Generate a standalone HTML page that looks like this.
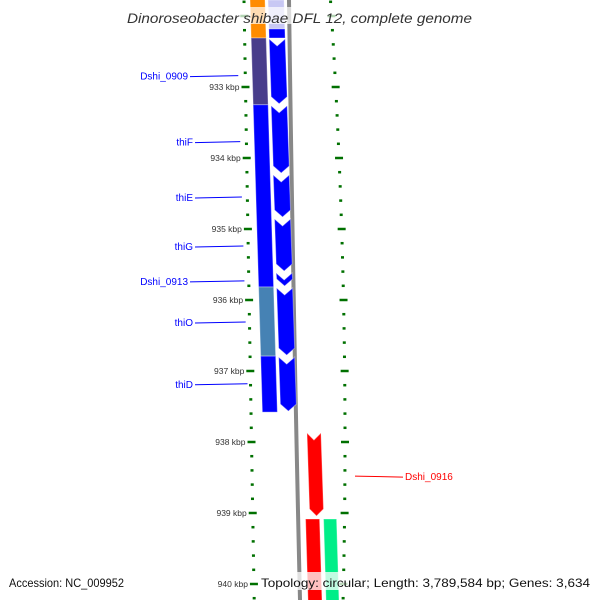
<!DOCTYPE html>
<html><head><meta charset="utf-8"><style>
html,body{margin:0;padding:0;background:#fff;}
svg{display:block;font-family:"Liberation Sans",sans-serif;}
</style></head><body>
<svg id="map" width="600" height="600" viewBox="0 0 600 600"></svg>
<script>
// data (kbp)
const tickMajors = [933,934,935,936,937,938,939,940];
const tickLabels = ["933 kbp","934 kbp","935 kbp","936 kbp","937 kbp","938 kbp","939 kbp","940 kbp"];
const innerStarts = [931.70,932.31,933.25,935.817,936.79];
const innerEnds   = [932.31,933.25,935.817,936.79,937.58];
const innerColors = ["#ff8c00","#483d8b","#0000ff","#4682b4","#0000ff"];
const cdsStarts = [932.31,933.25,934.225,934.845,935.605,935.817,936.79];
const cdsEnds   = [933.25,934.225,934.845,935.605,935.817,936.79,937.58];
const redStarts = [937.86,939.085];
const redEnds   = [939.056,940.3];
const greenStarts = [939.085];
const greenEnds = [940.3];
const geneNames = ["Dshi_0909","thiF","thiE","thiG","Dshi_0913","thiO","thiD"];
const genePos = [932.84,933.77,934.55,935.24,935.73,936.31,937.18];
const rightName = ["Dshi_0916"];
const rightPos = [938.48];

const svg = document.getElementById('map');
const NS = 'http://www.w3.org/2000/svg';
const Y = k => 87 + (k - 933) * 71;
function mk(t, a, p){const e=document.createElementNS(NS,t);for(const k in a)e.setAttribute(k,a[k]);(p||svg).appendChild(e);return e;}
function band(y1,y2,x0,w,fill,arrow,nm){
  const xa=x0+0.03*y1, xb=x0+0.03*y2;
  let pts;
  if(arrow){const h=Math.min(7,(y2-y1)/2);
    pts=[[xa,y1+1],[xa+w/2,y1+1+h],[xa+w,y1+1],[xb+w,y2-h-1],[xb+w/2,y2-1],[xb,y2-h-1]];
  } else pts=[[xa,y1],[xa+w,y1],[xb+w,y2],[xb,y2]];
  const p=mk('polygon',{points:pts.map(q=>q.join(',')).join(' '),fill:fill,stroke:'rgba(255,255,255,0.35)','stroke-width':1});
  
  
}
// backbone
const bb=mk('path',{d:'M289,0 Q293,300 300,600',stroke:'#888',fill:'none','stroke-width':4});


// inner
innerStarts.forEach((s,i)=>band(Y(s),Y(innerEnds[i]),250,15,innerColors[i],false,'inner-feature-'+i));
// cds
band(0,30,268,16,'#c8c8f4',false,'cds-partial');
band(29,38,268,16,'#0000ff',false,'cds-partial-end');
cdsStarts.forEach((s,i)=>band(Y(s),Y(cdsEnds[i]),268,16,'#0000ff',true,'cds-'+i));
redStarts.forEach((s,i)=>band(Y(s),Y(redEnds[i]),i?290:294,14,'#ff0000',i===0,'red-cds-'+i));
greenStarts.forEach((s,i)=>band(Y(s),Y(greenEnds[i]),308,13,'#00ee88',false,'green-cds-'+i));
// ticks
for(let k=931.8;k<=940.25;k+=0.2){
  const y=Y(k), maj=Math.abs(k-Math.round(k))<0.01;
  const xl=244+0.017*y, xr=345-12*Math.pow((y-440)/400,2);
  const a=mk('line',{x1:maj?xl-4:xl-1.5,x2:maj?xl+4:xl+1.5,y1:y,y2:y,stroke:'#007000','stroke-width':2.5});
  
  
  const b=mk('line',{x1:maj?xr-4:xr-1.5,x2:maj?xr+4:xr+1.5,y1:y,y2:y,stroke:'#007000','stroke-width':2.5});
  
  
}
tickMajors.forEach((k,i)=>{const y=Y(k);
  const t=mk('text',{x:241+0.017*y-3,y:y+3,'text-anchor':'end','font-size':8.5,fill:'#333'});t.textContent=tickLabels[i];
  
  });
geneNames.forEach((n,i)=>{const y=Y(genePos[i]);
  const l=mk('line',{x1:n.length>4?190:195,y1:y+1,x2:239+0.03*y-3,y2:y,stroke:'#0000ff','stroke-width':1});
  
  
  const t=mk('text',{x:n.length>4?188:193,y:y+4,'text-anchor':'end','font-size':10,fill:'#0000ff'});t.textContent=n;
  
  });
rightName.forEach((n,i)=>{const y=Y(rightPos[i]);
  const l=mk('line',{x1:355,y1:y,x2:403,y2:y+1,stroke:'#ff0000','stroke-width':1});
  
  
  const t=mk('text',{x:405,y:y+4,'font-size':10,fill:'#ff0000'});t.textContent=n;
  
  });
// title & footer
const tb=mk('rect',{x:125,y:7,width:350,height:17,fill:'rgba(255,255,255,0.7)'});


const ti=mk('text',{x:127,y:23,'font-size':14,'font-style':'italic',fill:'#333',textLength:345,lengthAdjust:'spacingAndGlyphs'});ti.textContent='Dinoroseobacter shibae DFL 12, complete genome';


const fb=mk('rect',{x:258,y:572,width:336,height:18,fill:'rgba(255,255,255,0.75)'});


const ac=mk('text',{x:9,y:587,'font-size':12,fill:'#111',textLength:115,lengthAdjust:'spacingAndGlyphs'});ac.textContent='Accession: NC_009952';


const tp=mk('text',{x:261,y:587,'font-size':12,fill:'#111',textLength:329,lengthAdjust:'spacingAndGlyphs'});tp.textContent='Topology: circular; Length: 3,789,584 bp; Genes: 3,634';


</script>
</body></html>
